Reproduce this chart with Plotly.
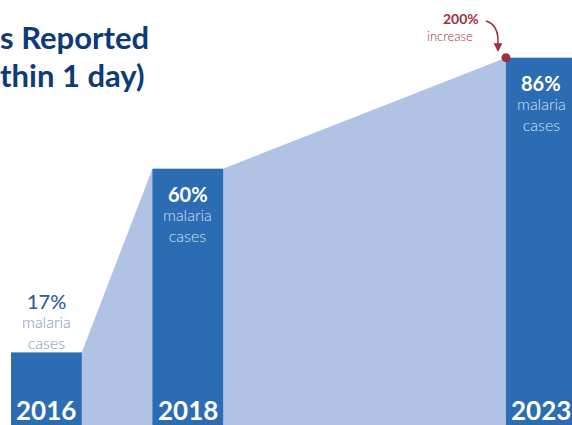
import plotly.graph_objects as go

# ---- data ----
years = [2016, 2018, 2023]
pct = [17, 60, 86]
year_labels = ["2016", "2018", "2023"]
pct_labels = ["17%", "60%", "86%"]
sub_label = "malaria<br>cases"
title_lines = ["s Reported", "thin 1 day)"]
increase_value = "200%"
increase_word = "increase"

# ---- styles ----
W, H = 572, 425
BAR = "#2B6CB3"
AREA = "#B1C3E5"
NAVY = "#0E3A78"
MAROON = "#A02F3E"
FONT = "Lato"
BAR_W = 1.0
half = BAR_W / 2
XR = [2015.344, 2023.434]
YR = [0, 99.5]

fig = go.Figure()

# shaded connecting area (from bar edges), drawn on the base axes
ax_, ay_ = [], []
for yv, v in zip(years, pct):
    ax_ += [yv - half, yv + half]
    ay_ += [v, v]
fig.add_trace(go.Scatter(x=ax_, y=ay_, mode="lines", line=dict(width=0),
                         fill="tozeroy", fillcolor=AREA, hoverinfo="skip"))

# bars on overlaying axes so they sit above the area
fig.add_trace(go.Bar(x=years, y=pct, width=[BAR_W] * len(years),
                     marker=dict(color=BAR, line=dict(width=0)),
                     xaxis="x2", yaxis="y2"))

fig.add_trace(go.Scatter(x=[years[-1] - half], y=[pct[-1]], mode="markers",
                         marker=dict(size=9, color=MAROON), cliponaxis=False,
                         xaxis="x2", yaxis="y2"))

ann = []
def a(**k):
    base = dict(showarrow=False, xanchor="center", yanchor="middle",
                xref="x2", yref="y2")
    base.update(k)
    ann.append(base)

for i, (yv, v) in enumerate(zip(years, pct)):
    if i == 0:
        a(x=yv, y=v, text=pct_labels[i], yshift=51,
          font=dict(family=FONT, size=20, color="#2F5E9F", weight=500))
        a(x=yv, y=v, text=sub_label, yshift=20,
          font=dict(family=FONT, size=16, color="#8496B8", weight=300))
    else:
        a(x=yv, y=v, text=pct_labels[i], yshift=-25,
          font=dict(family=FONT, size=20, color="white", weight="bold"))
        a(x=yv, y=v, text=sub_label, yshift=-56,
          font=dict(family=FONT, size=16, color="#D3E0F2", weight=300))
    a(x=yv, y=0, text=year_labels[i], yshift=15,
      font=dict(family=FONT, size=26, color="white", weight="bold"))

# title fragments
a(x=-0.003, y=1 - 37 / H, xref="paper", yref="paper", xanchor="left",
  text=title_lines[0], font=dict(family=FONT, size=31, color=NAVY, weight="bold"))
a(x=-0.003, y=1 - 75 / H, xref="paper", yref="paper", xanchor="left",
  text=title_lines[1], font=dict(family=FONT, size=31, color=NAVY, weight="bold"))

# increase callout
a(x=461 / W, y=1 - 19 / H, xref="paper", yref="paper",
  text="<b>" + increase_value + "</b>", font=dict(family=FONT, size=14, color=MAROON))
a(x=450 / W, y=1 - 36 / H, xref="paper", yref="paper",
  text=increase_word, font=dict(family=FONT, size=13, color=MAROON, weight=300))

# arrowhead
ann.append(dict(x=498 / W, y=1 - 52 / H, xref="paper", yref="paper", text="",
                showarrow=True, ax=0, ay=-10, arrowhead=2, arrowsize=1.1,
                arrowwidth=1.6, arrowcolor=MAROON))

def px(x, y):
    return f"{x / W:.4f},{1 - y / H:.4f}"

shapes = [dict(type="path", xref="paper", yref="paper",
               path=f"M{px(486, 21)} Q{px(499, 25)} {px(498, 44)}",
               line=dict(color=MAROON, width=1.6))]

fig.update_layout(
    width=W, height=H, margin=dict(l=0, r=0, t=0, b=0),
    paper_bgcolor="white", plot_bgcolor="white", showlegend=False,
    xaxis=dict(range=XR, visible=False, fixedrange=True),
    yaxis=dict(range=YR, visible=False, fixedrange=True),
    xaxis2=dict(range=XR, visible=False, fixedrange=True, overlaying="x"),
    yaxis2=dict(range=YR, visible=False, fixedrange=True, overlaying="y"),
    annotations=ann, shapes=shapes,
)
fig.write_html("out.html")
